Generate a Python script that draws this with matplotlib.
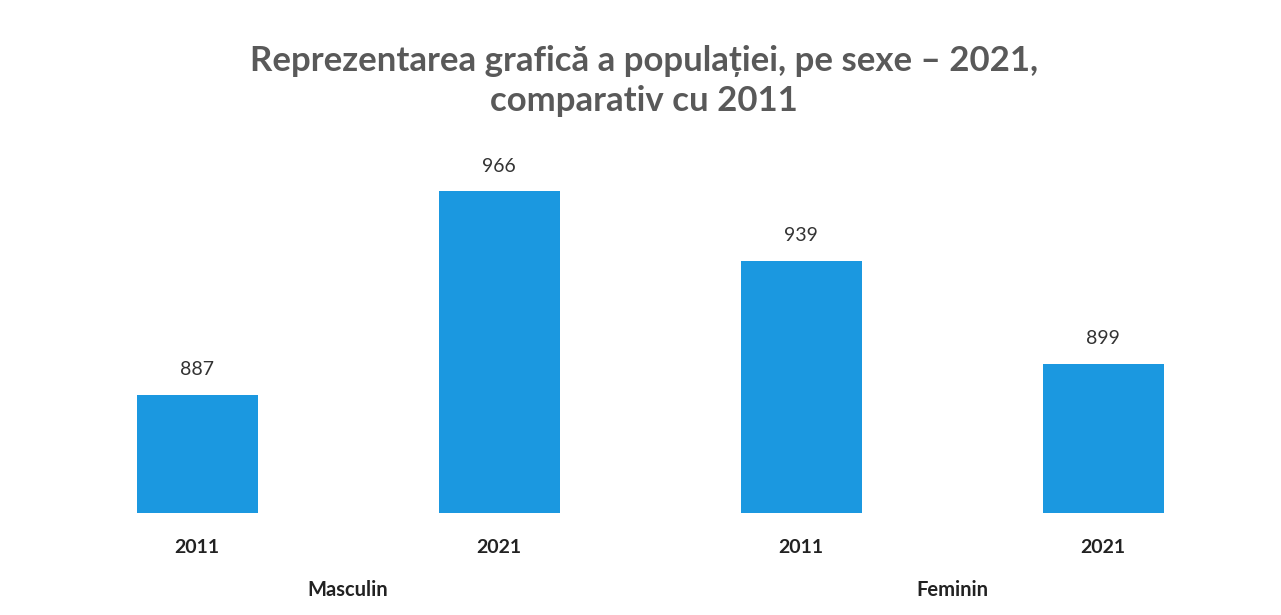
import numpy as np
import matplotlib.pyplot as plt
from matplotlib.transforms import blended_transform_factory

plt.rcParams['font.family'] = ['Lato', 'DejaVu Sans']

years = ['2011', '2021', '2011', '2021']
values = [887, 966, 939, 899]
groups = ['Masculin', 'Feminin']

fig = plt.figure(figsize=(12.81, 6.15), dpi=100)
ax = fig.add_axes([0.036, 0.166, 0.943, 0.59])

x = np.arange(len(values))
bars = ax.bar(x, values, width=0.4, color='#1B98E0')
ax.bar_label(bars, labels=[str(v) for v in values], padding=12,
             fontsize=14, color='#333333')

ax.set_xlim(-0.5, 3.5)
ax.set_ylim(841, 982)
ax.set_xticks(x)
ax.set_xticklabels(years, fontsize=14, fontweight='bold', color='#222222')
ax.tick_params(axis='x', length=0, pad=19)
ax.set_yticks([])
for s in ax.spines.values():
    s.set_visible(False)

trans = blended_transform_factory(ax.transData, fig.transFigure)
for i, g in enumerate(groups):
    ax.text(2 * i + 0.5, 0.04, g, transform=trans, ha='center', va='center',
            fontsize=14.5, fontweight='bold', color='#222222')

fig.text(0.503, 0.868, 'Reprezentarea grafică a populației, pe sexe – 2021,\ncomparativ cu 2011',
         ha='center', va='center', fontsize=25, fontweight='bold',
         color='#595959', linespacing=1.3)

fig.savefig('out.png', dpi=100, facecolor='white')
